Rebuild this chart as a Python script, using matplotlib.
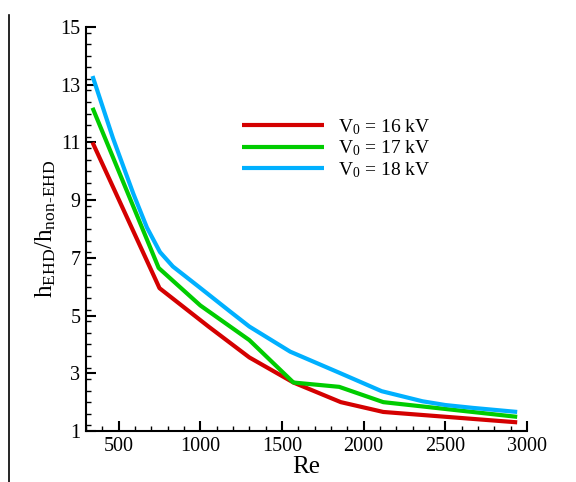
import numpy as np
import matplotlib
matplotlib.use('Agg')
import matplotlib.pyplot as plt
from matplotlib.lines import Line2D
from matplotlib.ticker import MultipleLocator

plt.rcParams['font.family'] = ['Liberation Serif', 'DejaVu Serif']
plt.rcParams['mathtext.fontset'] = 'custom'
plt.rcParams['mathtext.rm'] = 'Liberation Serif'
plt.rcParams['mathtext.it'] = 'Liberation Serif:italic'

# data
re_16 = [340, 750, 1050, 1300, 1570, 1860, 2120, 2940]
h_16 = [11.0, 5.95, 4.62, 3.55, 2.68, 2.0, 1.66, 1.3]

re_17 = [340, 745, 1000, 1300, 1570, 1850, 2120, 2940]
h_17 = [12.2, 6.65, 5.35, 4.15, 2.68, 2.53, 2.0, 1.49]

re_18 = [340, 465, 590, 673, 753, 832, 990, 1180, 1300, 1550, 1850, 2110, 2360, 2500, 2670, 2940]
h_18 = [13.3, 11.15, 9.22, 8.05, 7.2, 6.7, 6.0, 5.15, 4.62, 3.75, 3.02, 2.38, 2.03, 1.9, 1.8, 1.66]

labels = [r'V$_0$ = 16 kV', r'V$_0$ = 17 kV', r'V$_0$ = 18 kV']
colors = ['#d40000', '#00cc00', '#00b0ff']

fig = plt.figure(figsize=(5.76, 4.82), dpi=100)
ax = fig.add_axes([86/576, 1-431/482, (527-86)/576, (431-27)/482])

for x, y, c, lab in zip([re_16, re_17, re_18], [h_16, h_17, h_18], colors, labels):
    ax.plot(x, y, color=c, lw=3, label=lab, solid_capstyle='butt')

ax.set_xlim(300, 3000)
ax.set_ylim(1, 15)
ax.xaxis.set_minor_locator(MultipleLocator(100))
ax.yaxis.set_minor_locator(MultipleLocator(0.4))
ax.set_xticks([500, 1000, 1500, 2000, 2500, 3000])
ax.set_yticks([1, 3, 5, 7, 9, 11, 13, 15])

ax.spines['top'].set_visible(False)
ax.spines['right'].set_visible(False)
for s in ['left', 'bottom']:
    ax.spines[s].set_linewidth(1.5)
ax.tick_params(which='major', direction='in', length=7, width=1.5, labelsize=14.5, pad=4)
ax.tick_params(which='minor', direction='in', length=3.5, width=1)

ax.set_xlabel('Re', fontsize=18, labelpad=0)
ax.set_ylabel(r'h$_{\mathrm{EHD}}$/h$_{\mathrm{non‐EHD}}$', fontsize=18, labelpad=2)

leg = ax.legend(loc='upper left', bbox_to_anchor=(242/576, 1-117/482),
                bbox_transform=fig.transFigure, frameon=False, fontsize=14,
                handlelength=4.2, handletextpad=0.75, labelspacing=0.1,
                borderpad=0, borderaxespad=0)

# stray vertical line at the left edge of the reference image
fig.add_artist(Line2D([9/576, 9/576], [0, 1-15/482], color='black', lw=1.2))

fig.savefig('out.png', dpi=100)
